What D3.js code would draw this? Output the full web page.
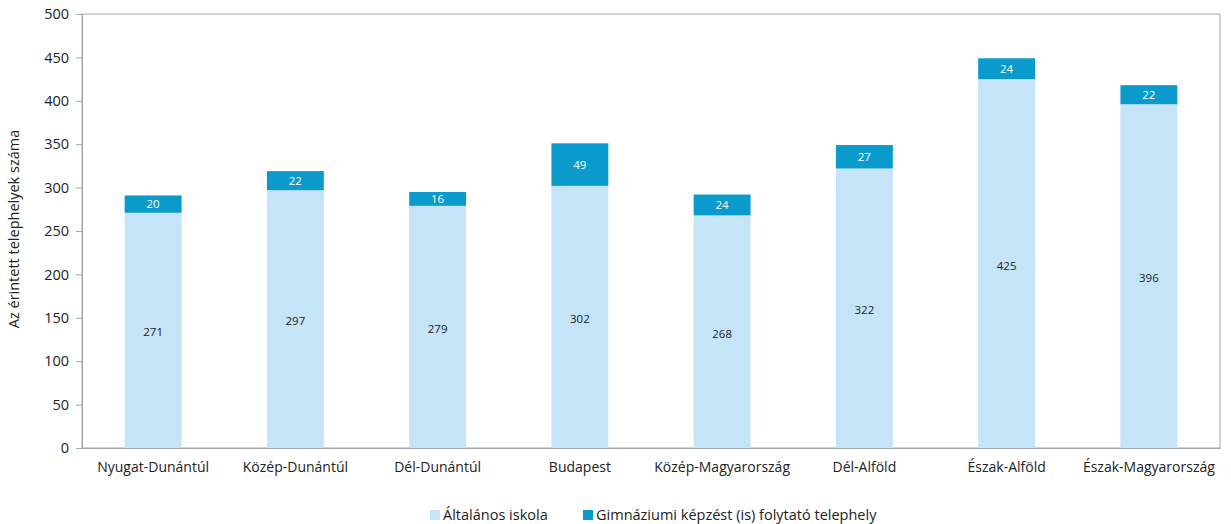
<!DOCTYPE html>
<html><head><meta charset="utf-8">
<script src="https://cdn.jsdelivr.net/npm/d3@7"></script>
<style>body{margin:0;background:#fff;} text{font-family:"Open Sans",sans-serif;}</style>
</head><body>
<svg id="c" width="1231" height="524"></svg>
<script>
const categories = ["Nyugat-Dunántúl","Közép-Dunántúl","Dél-Dunántúl","Budapest","Közép-Magyarország","Dél-Alföld","Észak-Alföld","Észak-Magyarország"];
const altalanos = [271,297,279,302,268,322,425,396];
const gimnazium = [20,22,16,49,24,27,24,22];
const yTicks = [0,50,100,150,200,250,300,350,400,450,500];
const seriesNames = ["Általános iskola","Gimnáziumi képzést (is) folytató telephely"];
const colors = ["#c5e4f8","#0a9acb"];

const svg = d3.select("#c");
const m = {l:82, r:1220, t:14, b:448};
const x = d3.scaleBand().domain(categories).range([m.l, m.r]).paddingInner(0.6).paddingOuter(0.3);
const y = d3.scaleLinear().domain([0,500]).range([m.b, m.t]);

svg.append("rect").attr("x", m.l).attr("y", m.t).attr("width", m.r-m.l).attr("height", m.b-m.t)
  .attr("fill","none").attr("stroke","#a6a6a6").attr("stroke-width",1);

const yAxis = svg.append("g").attr("transform",`translate(${m.l},0)`)
  .call(d3.axisLeft(y).tickValues(yTicks).tickSize(6).tickPadding(7));
yAxis.select(".domain").attr("stroke","#a6a6a6");
yAxis.selectAll(".tick line").attr("stroke","#a6a6a6");
yAxis.selectAll("text").attr("font-size",14.5).attr("fill","#222").style("font-family","'Open Sans',sans-serif");

const xAxis = svg.append("g").attr("transform",`translate(0,${m.b})`)
  .call(d3.axisBottom(x).tickSize(0).tickPadding(14));
xAxis.select(".domain").attr("stroke","#a6a6a6");
xAxis.selectAll("text").attr("font-size",14).attr("fill","#222").style("font-family","'Open Sans',sans-serif");

svg.append("text").attr("transform",`translate(19,${(m.t+m.b)/2 - 2}) rotate(-90)`)
  .attr("text-anchor","middle").attr("font-size",14.5).attr("fill","#222")
  .text("Az érintett telephelyek száma");

const data = categories.map((c,i)=>({c, a:altalanos[i], g:gimnazium[i]}));
const bars = svg.append("g");
bars.selectAll("rect.a").data(data).join("rect").attr("class","a")
  .attr("x",d=>x(d.c)).attr("width",x.bandwidth())
  .attr("y",d=>y(d.a)).attr("height",d=>y(0)-y(d.a)).attr("fill",colors[0]);
bars.selectAll("rect.g").data(data).join("rect").attr("class","g")
  .attr("x",d=>x(d.c)).attr("width",x.bandwidth())
  .attr("y",d=>y(d.a+d.g)).attr("height",d=>y(d.a)-y(d.a+d.g)).attr("fill",colors[1]);

bars.selectAll("text.a").data(data).join("text").attr("class","a")
  .attr("x",d=>x(d.c)+x.bandwidth()/2).attr("y",d=>y(d.a/2)+2).attr("dy","0.35em")
  .attr("text-anchor","middle").attr("font-size",11.5).attr("fill","#222").text(d=>d.a);
bars.selectAll("text.g").data(data).join("text").attr("class","g")
  .attr("x",d=>x(d.c)+x.bandwidth()/2).attr("y",d=>y(d.a+d.g/2)).attr("dy","0.35em")
  .attr("text-anchor","middle").attr("font-size",11.5).attr("fill","#fff").text(d=>d.g);

const lg = svg.append("g");
const lx = [430, 583];
seriesNames.forEach((n,i)=>{
  lg.append("rect").attr("x",lx[i]).attr("y",510).attr("width",10).attr("height",10).attr("fill",colors[i]);
  lg.append("text").attr("x",lx[i]+13).attr("y",515).attr("dy","0.35em").attr("font-size",14.5).attr("fill","#222").text(n);
});
</script>
</body></html>
